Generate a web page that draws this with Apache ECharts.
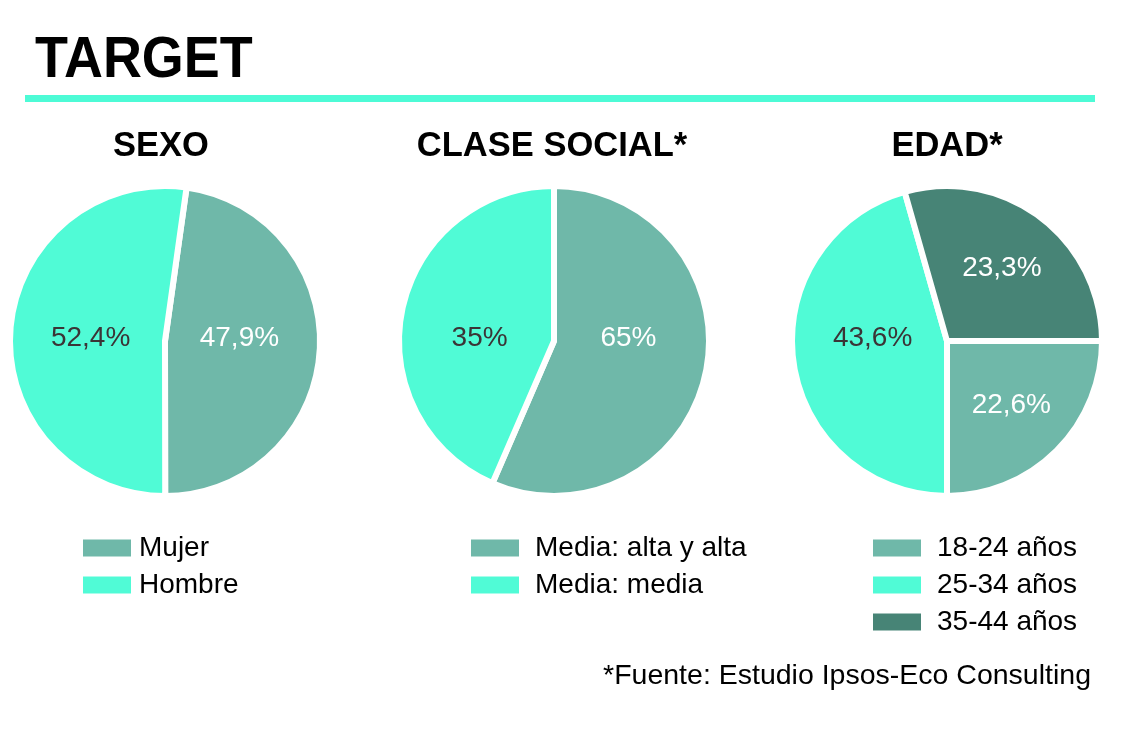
<!DOCTYPE html>
<html>
<head>
<meta charset="utf-8">
<script src="https://cdn.jsdelivr.net/npm/echarts@6/dist/echarts.min.js"></script>
<style>
html,body{margin:0;padding:0;background:#fff;}
#chart{width:1124px;height:752px;}
</style>
</head>
<body>
<div id="chart"></div>
<script>
// ---- data ----
var sexoNames = ['Mujer', 'Hombre'];
var sexoShares = [47.9, 52.4];              // arc sizes
var sexoLabels = ['47,9%', '52,4%'];        // printed labels

var claseNames = ['Media: alta y alta', 'Media: media'];
var claseShares = [56.5, 43.5];             // arc sizes as drawn in the picture
var claseLabels = ['65%', '35%'];           // printed labels

var edadNames = ['18-24 años', '25-34 años', '35-44 años'];
var edadShares = [25, 45.6, 29.4];          // arc sizes as drawn in the picture
var edadLabels = ['22,6%', '43,6%', '23,3%']; // printed labels

var C_LIGHT = '#50fbd6', C_MED = '#6fb8a9', C_DARK = '#478476';
var sexoColors = [C_MED, C_LIGHT];
var claseColors = [C_MED, C_LIGHT];
var edadColors = [C_MED, C_LIGHT, C_DARK];

var FONT = '"Liberation Sans", Arial, Helvetica, sans-serif';
var R = 155;
var centers = [[165, 341], [554, 341], [947, 341]];

function buildData(names, shares, labels, colors) {
  return names.map(function (n, i) {
    var dark = colors[i] === C_LIGHT;
    return {
      name: n,
      value: shares[i],
      itemStyle: { color: colors[i] },
      label: { formatter: labels[i], color: dark ? '#3b3436' : '#ffffff' }
    };
  });
}

function pieSeries(idx, startAngle, data) {
  var c = centers[idx];
  var total = data.reduce(function (s, d) { return s + d.value; }, 0);
  return {
    type: 'pie',
    center: c,
    radius: R,
    startAngle: startAngle,
    clockwise: true,
    avoidLabelOverlap: false,
    silent: true,
    animation: false,
    itemStyle: { borderColor: '#ffffff', borderWidth: 6 },
    label: { show: true, position: 'inside', fontFamily: FONT, fontSize: 28 },
    labelLine: { show: false },
    labelLayout: function (p) {
      var lr = p.labelRect;
      var lx = lr.x + lr.width / 2, ly = lr.y + lr.height / 2;
      var dx = lx - c[0], dy = ly - c[1];
      var share = data[p.dataIndex].value / total;
      if (share > 0.4) {
        return { x: c[0] + (dx >= 0 ? 1 : -1) * R * 0.48, y: c[1] - 3, align: 'center', verticalAlign: 'middle' };
      }
      return { x: c[0] + dx * 1.13, y: c[1] + dy * 1.13, align: 'center', verticalAlign: 'middle' };
    },
    emphasis: { disabled: true },
    data: data
  };
}

function legend(left, top, names, padLeft) {
  return {
    left: left, top: top, orient: 'vertical',
    padding: 0,
    data: names,
    selectedMode: false,
    icon: 'rect',
    itemWidth: 50, itemHeight: 19, itemGap: 9,
    textStyle: { fontFamily: FONT, fontSize: 28, color: '#000', padding: [0, 0, 0, padLeft] }
  };
}

var subStyle = { fontFamily: FONT, fontWeight: 'bold', fontSize: 34.5, color: '#000' };

var chart = echarts.init(document.getElementById('chart'), null, { renderer: 'canvas' });
chart.setOption({
  backgroundColor: '#ffffff',
  animation: false,
  title: [
    { text: 'SEXO', left: 161, top: 129, textAlign: 'center', padding: 0, textStyle: subStyle },
    { text: 'CLASE SOCIAL*', left: 552, top: 129, textAlign: 'center', padding: 0, textStyle: subStyle },
    { text: 'EDAD*', left: 947, top: 129, textAlign: 'center', padding: 0, textStyle: subStyle }
  ],
  legend: [
    legend(81, 534, sexoNames, 2),
    legend(469, 534, claseNames, 10),
    legend(871, 534, edadNames, 10)
  ],
  graphic: [
    { type: 'text', left: 35, top: 32, scaleX: 0.93,
      style: { text: 'TARGET', font: 'bold 58px ' + FONT, fill: '#000' } },
    { type: 'rect', shape: { x: 25, y: 95, width: 1070, height: 7 }, style: { fill: '#4dfbd6' } },
    { type: 'text', right: 33, top: 662,
      style: { text: '*Fuente: Estudio Ipsos-Eco Consulting', font: '28.5px ' + FONT, fill: '#000' } }
  ],
  series: [
    pieSeries(0, 82, buildData(sexoNames, sexoShares, sexoLabels, sexoColors)),
    pieSeries(1, 90, buildData(claseNames, claseShares, claseLabels, claseColors)),
    pieSeries(2, 0, buildData(edadNames, edadShares, edadLabels, edadColors))
  ]
});
</script>
</body>
</html>
